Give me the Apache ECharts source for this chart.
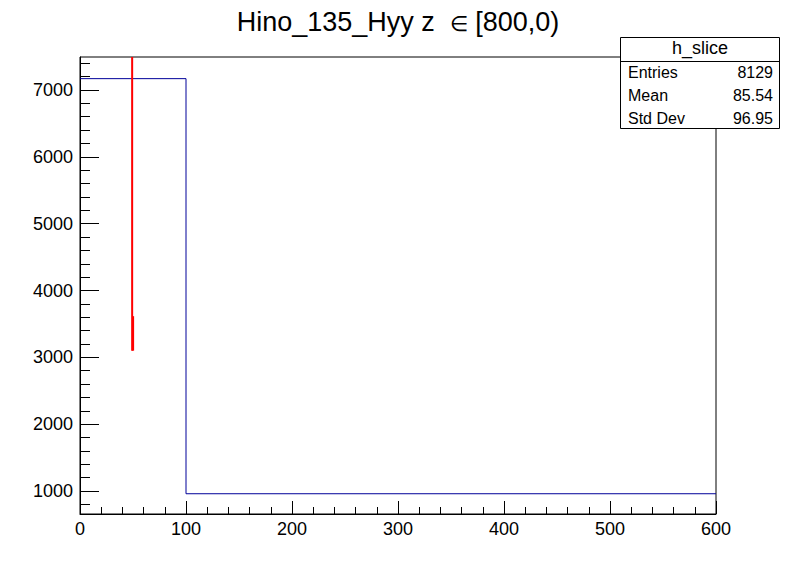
<!DOCTYPE html>
<html>
<head>
<meta charset="utf-8">
<script src="https://cdn.jsdelivr.net/npm/echarts@6/dist/echarts.min.js"></script>
<style>
html,body{margin:0;padding:0;background:#fff;}
#c{width:796px;height:572px;}
</style>
</head>
<body>
<div id="c"></div>
<script>
// ---- data ----
const binEdges = [0, 100, 600];
const binCounts = [7170, 959];
const redUpperX = 49.2;
const redUpper = [7494, 3100];
const redLowerX = 50.1;
const redLower = [3616, 3100];
const xTicks = [0, 100, 200, 300, 400, 500, 600];
const yMajorTicks = [1000, 2000, 3000, 4000, 5000, 6000, 7000];
const yMinorTicks = [800, 1200, 1400, 1600, 1800, 2200, 2400, 2600, 2800, 3200, 3400, 3600, 3800,
  4200, 4400, 4600, 4800, 5200, 5400, 5600, 5800, 6200, 6400, 6600, 6800, 7200, 7400];
const statLabels = ['Entries', 'Mean', 'Std Dev'];
const statValues = ['8129', '85.54', '96.95'];
const titleMain = 'Hino_135_Hyy z  ';
const titleSym = '\u2208';
const titleRest = ' [800,0)';
const statTitle = 'h_slice';
const yMin = 656, yMax = 7494;

// build histogram step outline
const histPts = [];
for (let i = 0; i < binCounts.length; i++) {
  histPts.push([binEdges[i], binCounts[i]]);
  histPts.push([binEdges[i + 1], binCounts[i]]);
}

const FONT = 'Liberation Sans, Arial, Helvetica, sans-serif';
const chart = echarts.init(document.getElementById('c'), null, {renderer: 'svg'});

const graphics = [
  {type: 'rect', z: 100, shape: {x: 620.5, y: 37.5, width: 159, height: 91}, style: {fill: '#fff', stroke: '#000', lineWidth: 1}},
  {type: 'line', z: 101, shape: {x1: 620.5, y1: 61.5, x2: 779.5, y2: 61.5}, style: {stroke: '#000', lineWidth: 1}},
  {type: 'text', z: 101, x: 700, y: 39, style: {text: statTitle, font: '18px ' + FONT, fill: '#000', textAlign: 'center'}}
];
for (let i = 0; i < statLabels.length; i++) {
  graphics.push({type: 'text', z: 101, x: 628, y: 64 + i * 23,
    style: {text: statLabels[i], font: '16px ' + FONT, fill: '#000', textAlign: 'left'}});
  graphics.push({type: 'text', z: 101, x: 773, y: 64 + i * 23,
    style: {text: statValues[i], font: '16px ' + FONT, fill: '#000', textAlign: 'right'}});
}

chart.setOption({
  animation: false,
  title: {
    text: titleMain + '{s|' + titleSym + '}' + titleRest, left: 'center', top: 3,
    textStyle: {fontFamily: FONT, fontSize: 27, fontWeight: 'normal', color: '#000',
      rich: {s: {fontFamily: FONT, fontSize: 21, color: '#000', verticalAlign: 'bottom', padding: [0, 0, 1, 0]}}}
  },
  grid: {left: 80, right: 80, top: 57, bottom: 58, show: true, borderColor: '#000', borderWidth: 1, backgroundColor: 'transparent'},
  xAxis: {
    type: 'value', min: 0, max: 600, interval: 100,
    axisLine: {show: true, onZero: false, lineStyle: {color: '#000', width: 1}},
    axisTick: {show: true, inside: true, length: 13, lineStyle: {color: '#000'}},
    minorTick: {show: true, splitNumber: 5, length: 7, lineStyle: {color: '#000'}},
    splitLine: {show: false},
    axisLabel: {fontFamily: FONT, fontSize: 18, color: '#000', margin: 6,
      customValues: xTicks, formatter: v => String(v)}
  },
  yAxis: [{
    type: 'value', min: yMin, max: yMax,
    axisLine: {show: true, onZero: false, lineStyle: {color: '#000', width: 1}},
    axisTick: {show: true, inside: true, length: 19, lineStyle: {color: '#000'}, customValues: yMajorTicks},
    splitLine: {show: false},
    axisLabel: {fontFamily: FONT, fontSize: 18, color: '#000', margin: 7, customValues: yMajorTicks,
      formatter: v => String(v)}
  }, {
    type: 'value', min: yMin, max: yMax, position: 'left',
    axisLine: {show: false},
    axisTick: {show: true, inside: true, length: 10, lineStyle: {color: '#000'}, customValues: yMinorTicks},
    splitLine: {show: false},
    axisLabel: {show: false}
  }],
  series: [{
    type: 'line', data: histPts, showSymbol: false, clip: true,
    lineStyle: {color: '#000099', width: 1}, itemStyle: {color: '#000099'}
  }, {
    type: 'line', data: redUpper.map(v => [redUpperX, v]), showSymbol: false, clip: true,
    lineStyle: {color: '#ff0000', width: 2}
  }, {
    type: 'line', data: redLower.map(v => [redLowerX, v]), showSymbol: false, clip: true,
    lineStyle: {color: '#ff0000', width: 2}
  }],
  graphic: graphics
});
</script>
</body>
</html>
